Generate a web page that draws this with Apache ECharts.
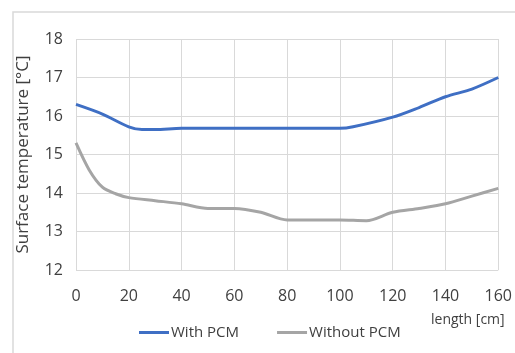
<!DOCTYPE html>
<html>
<head>
<meta charset="utf-8">
<script src="https://cdn.jsdelivr.net/npm/echarts@6/dist/echarts.min.js"></script>
<style>
  html, body { margin: 0; padding: 0; background: #fff; }
  #chart { width: 515px; height: 353px; }
</style>
</head>
<body>
<div id="chart"></div>
<script>
// length [cm] / surface temperature [°C]
const withPcmX = [0, 10, 20, 25, 30, 40, 60, 80, 100, 105, 120, 130, 140, 150, 160];
const withPcmY = [16.3, 16.05, 15.72, 15.65, 15.65, 15.68, 15.68, 15.68, 15.68, 15.72, 15.97, 16.22, 16.5, 16.7, 17.0];
const withoutPcmX = [0, 5, 10, 15, 20, 30, 40, 50, 60, 70, 80, 90, 100, 110, 120, 130, 140, 150, 160];
const withoutPcmY = [15.3, 14.6, 14.15, 13.98, 13.88, 13.8, 13.72, 13.6, 13.6, 13.5, 13.3, 13.3, 13.3, 13.28, 13.5, 13.6, 13.72, 13.92, 14.12];

const font = 'Open Sans, Liberation Sans, sans-serif';

const myChart = echarts.init(document.getElementById('chart'));
myChart.setOption({
    animation: false,
    backgroundColor: '#fff',
    graphic: [
        {
            type: 'rect',
            shape: { x: 13, y: 12, width: 520, height: 360 },
            style: { fill: 'none', stroke: '#d9d9d9', lineWidth: 1.5 }
        },
        {
            type: 'text',
            left: 431, top: 313,
            style: { text: 'length [cm]', fill: '#404040', font: '14px ' + font }
        }
    ],
    grid: { left: 76, right: 15, top: 39, bottom: 83 },
    legend: {
        left: 134, top: 320,
        itemWidth: 30, itemHeight: 3, itemGap: 38,
        icon: 'rect',
        textStyle: { color: '#404040', fontSize: 15, fontFamily: font, padding: [0, 0, 0, -3] },
        data: ['With PCM', 'Without PCM']
    },
    xAxis: {
        type: 'value',
        min: 0, max: 160, interval: 20,
        axisLine: { show: false },
        axisTick: { show: false },
        axisLabel: { color: '#404040', fontSize: 16, fontFamily: font, margin: 18 },
        splitLine: { show: true, lineStyle: { color: '#d9d9d9', width: 1 } }
    },
    yAxis: {
        type: 'value',
        min: 12, max: 18, interval: 1,
        name: 'Surface temperature [°C]',
        nameLocation: 'middle',
        nameGap: 44,
        nameTextStyle: { color: '#404040', fontSize: 17, fontFamily: font },
        axisLine: { show: false },
        axisTick: { show: false },
        axisLabel: { color: '#404040', fontSize: 16, fontFamily: font, margin: 13 },
        splitLine: { lineStyle: { color: '#d9d9d9', width: 1 } }
    },
    series: [
        {
            name: 'With PCM',
            type: 'line',
            smooth: 0.3,
            symbol: 'none',
            color: '#3f6fc4',
            lineStyle: { width: 3 },
            data: withPcmX.map((x, i) => [x, withPcmY[i]])
        },
        {
            name: 'Without PCM',
            type: 'line',
            smooth: 0.3,
            symbol: 'none',
            color: '#a5a5a5',
            lineStyle: { width: 3 },
            data: withoutPcmX.map((x, i) => [x, withoutPcmY[i]])
        }
    ]
});
</script>
</body>
</html>
